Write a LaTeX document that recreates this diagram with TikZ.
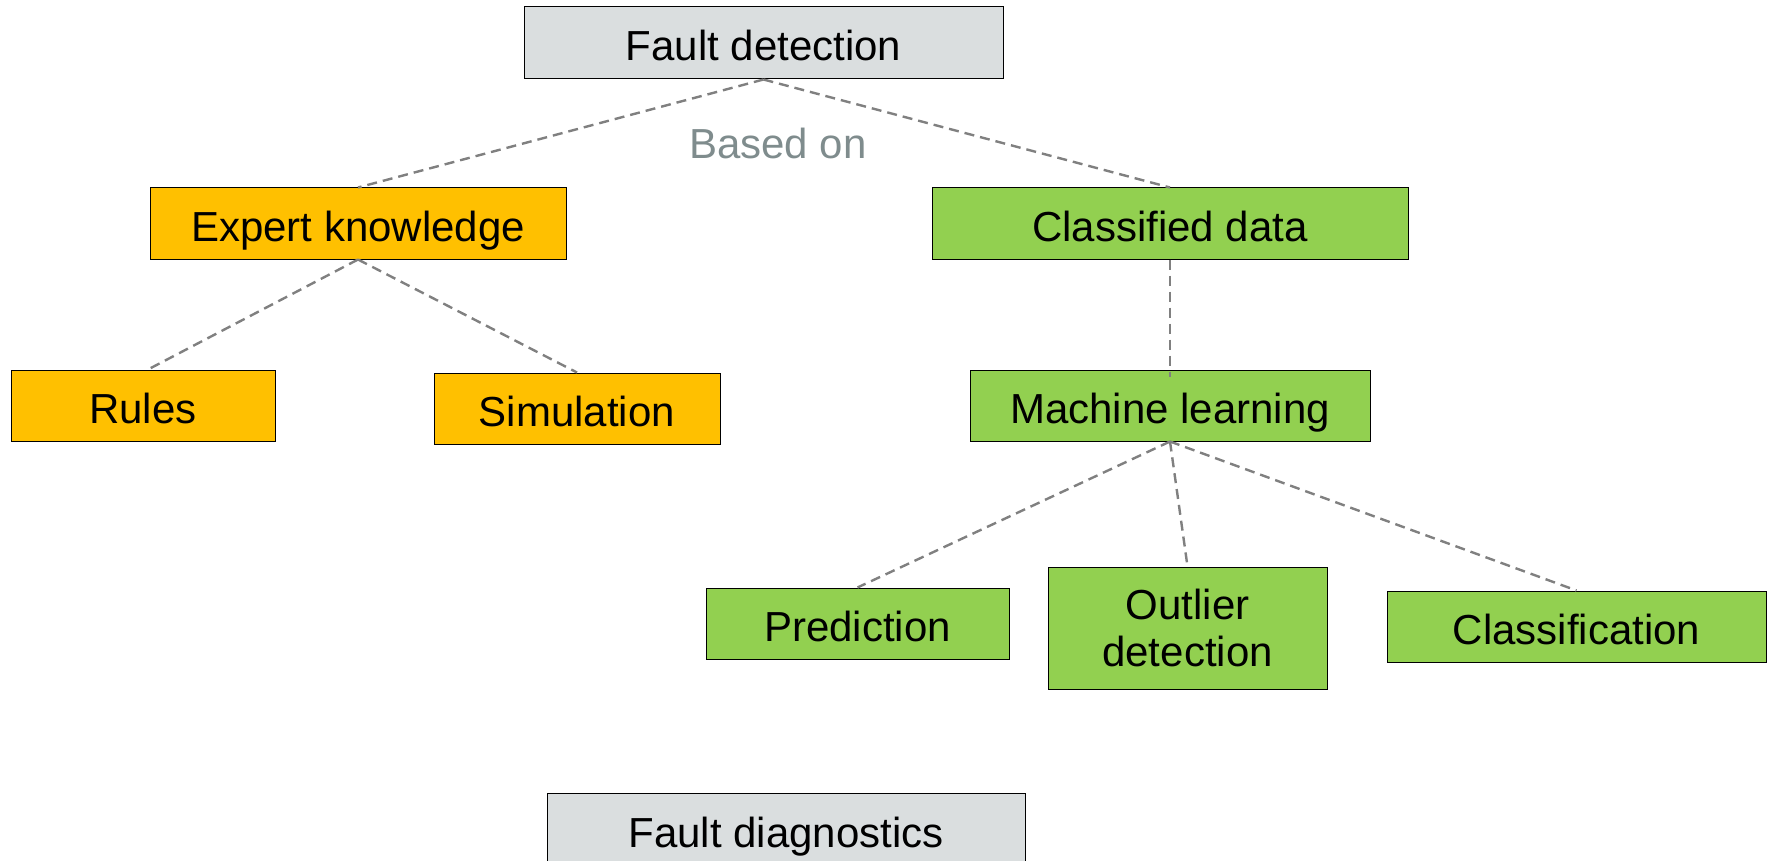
\documentclass[tikz,border=0pt]{standalone}
\usepackage{fontspec}
\setmainfont{Liberation Sans}
\definecolor{boxgray}{RGB}{218,222,223}
\definecolor{boxorange}{RGB}{255,192,0}
\definecolor{boxgreen}{RGB}{146,208,80}
\definecolor{linkgray}{RGB}{128,128,128}
\definecolor{notegray}{RGB}{127,140,141}
\begin{document}
\begin{tikzpicture}[x=1pt,y=-1pt,
  box/.style={draw=black, line width=1pt, inner sep=0pt, align=center,
    font=\fontsize{42}{47}\selectfont, text=black},
  oneline/.style={text height=36pt, text depth=0pt},
  graybox/.style={box, oneline, fill=boxgray},
  orangebox/.style={box, oneline, fill=boxorange},
  greenbox/.style={box, oneline, fill=boxgreen},
  link/.style={draw=linkgray, line width=2.4pt, dash pattern=on 10pt off 6pt}]
\useasboundingbox (0,0) rectangle (1769,861);
\clip (0,0) rectangle (1769,861);

% top level
\node[graybox, minimum width=479pt, minimum height=72pt] (fd) at (763.5,43) {Fault detection};
\node[font=\fontsize{42}{47}\selectfont, text=notegray, inner sep=0pt] (based) at (778,143) {Based on};

% knowledge branch
\node[orangebox, minimum width=416pt, minimum height=71pt] (ek) at (358,223.5) {Expert knowledge};
\node[orangebox, minimum width=264pt, minimum height=71pt] (rules) at (143,405.5) {Rules};
\node[orangebox, minimum width=286pt, minimum height=71pt] (sim) at (577,408.5) {Simulation};

% data branch
\node[greenbox, minimum width=476pt, minimum height=71pt] (cd) at (1170,223.5) {Classified data};
\node[greenbox, minimum width=400pt, minimum height=71pt] (ml) at (1170,405.5) {Machine learning};
\node[greenbox, minimum width=303pt, minimum height=71pt] (pred) at (857.5,623.5) {Prediction};
\node[box, fill=boxgreen, minimum width=279pt, minimum height=122pt] (out) at (1187.5,628) {Outlier\\detection};
\node[greenbox, minimum width=379pt, minimum height=71pt] (cls) at (1576.5,626.5) {Classification};

% bottom box, running past the lower edge
\node[graybox, minimum width=478pt, minimum height=72pt] (fdiag) at (786,829) {Fault diagnostics};

% connectors
\draw[link] (fd.south) -- (ek.north);
\draw[link] (fd.south) -- (cd.north);
\draw[link] (ek.south) -- ([xshift=5pt]rules.north);
\draw[link] (ek.south) -- (sim.north);
\draw[link] (cd.south) -- ([yshift=-7pt]ml.north);
\draw[link] (ml.south) -- (pred.north);
\draw[link] (ml.south) -- (out.north);
\draw[link] (ml.south) -- (cls.north);
\end{tikzpicture}
\end{document}
